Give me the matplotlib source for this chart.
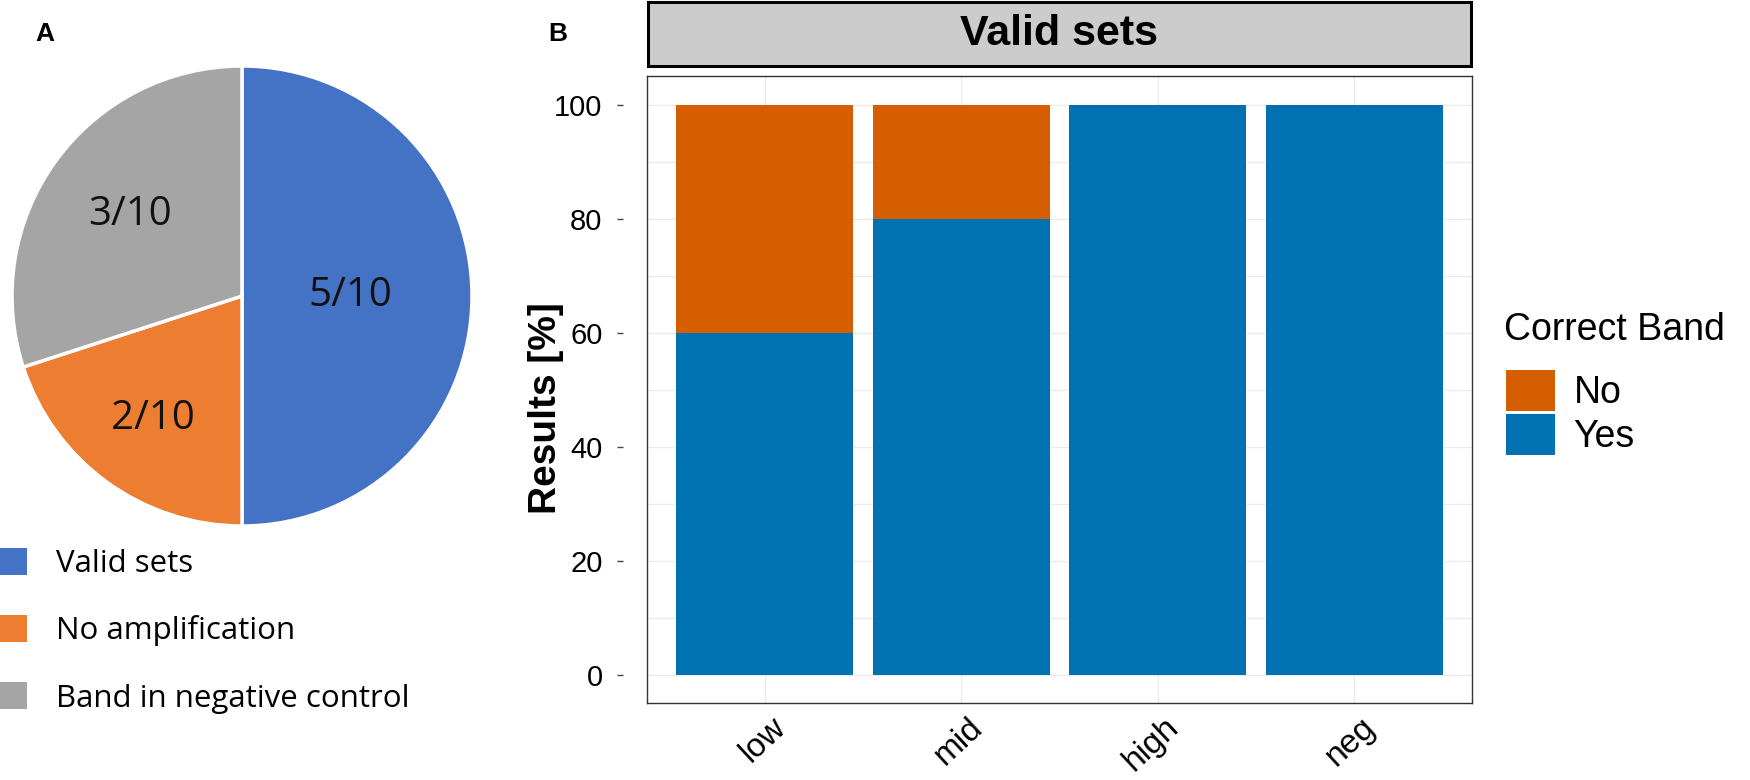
"""Two-panel figure: pie of set outcomes (A) and stacked bars of correct bands (B)."""

import numpy as np
import matplotlib.pyplot as plt
import matplotlib.transforms as mtransforms
from matplotlib.patches import Patch

# panel A data
pie_labels = ["Valid sets", "No amplification", "Band in negative control"]
pie_counts = [5, 2, 3]
pie_text = ["5/10", "2/10", "3/10"]
pie_colors = ["#4472C4", "#ED7D31", "#A5A5A5"]
label_radius = [0.47, 0.66, 0.6]

# panel B data
levels = ["low", "mid", "high", "neg"]
yes_pct = [60, 80, 100, 100]
no_pct = [40, 20, 0, 0]
band_colors = {"No": "#D55E00", "Yes": "#0072B2"}
y_ticks = [0, 20, 40, 60, 80, 100]

W, H = 1750, 780
fig = plt.figure(figsize=(W / 100, H / 100), dpi=100)
plt.rcParams["font.family"] = ["Liberation Sans", "DejaVu Sans"]


def frac(x0, y0, x1, y1):
    """pixel box (top-left origin) -> figure fraction rect"""
    return [x0 / W, 1 - y1 / H, (x1 - x0) / W, (y1 - y0) / H]


# ---- panel A: pie ----
ax_pie = fig.add_axes(frac(12, 66, 472, 526))
wedges, texts = ax_pie.pie(
    pie_counts,
    colors=pie_colors,
    startangle=90,
    counterclock=False,
    labels=pie_text,
    wedgeprops=dict(edgecolor="white", linewidth=2.5),
    textprops=dict(fontsize=29, family="Open Sans", color="#111111",
                   ha="center", va="center"),
)
# labels sit at different radii in the original
for w, t, r in zip(wedges, texts, label_radius):
    ang = np.deg2rad((w.theta1 + w.theta2) / 2)
    t.set_position((r * np.cos(ang), r * np.sin(ang)))
    t.set_ha("center")
    t.set_va("center")
ax_pie.set_xlim(-1, 1)
ax_pie.set_ylim(-1, 1)
ax_pie.set_aspect("equal")

fig.legend(
    handles=[Patch(facecolor=c) for c in pie_colors],
    labels=pie_labels,
    loc="upper left",
    bbox_to_anchor=(0.0, 1 - 548 / H),
    frameon=False,
    prop=dict(family="Open Sans", size=22.5),
    handlelength=0.85,
    handleheight=0.95,
    handletextpad=0.95,
    labelspacing=1.15,
    borderpad=0,
    borderaxespad=0,
)

fig.text(45 / W, 1 - 34 / H, "A", fontsize=19, fontweight="bold", ha="center", va="center")
fig.text(558 / W, 1 - 34 / H, "B", fontsize=19, fontweight="bold", ha="center", va="center")

# ---- panel B: stacked bars ----
ax = fig.add_axes(frac(647, 76, 1472, 703))
x = range(len(levels))
ax.bar(x, yes_pct, width=0.9, color=band_colors["Yes"], label="Yes", zorder=2)
ax.bar(x, no_pct, width=0.9, bottom=yes_pct, color=band_colors["No"], label="No", zorder=2)

ax.set_xlim(-0.6, len(levels) - 0.4)
ax.set_ylim(-5, 105)
ax.set_yticks(y_ticks)
ax.set_yticks([10, 30, 50, 70, 90], minor=True)
ax.set_xticks(list(x))
ax.grid(True, which="both", color="#EBEBEB", linewidth=1, zorder=0)
ax.tick_params(axis="y", which="both", length=0, pad=32, labelsize=21)
ax.tick_params(axis="x", length=0, pad=6)
ax.set_xticklabels(levels, rotation=43, ha="right", va="top",
                   rotation_mode="anchor", fontsize=24)
offset = mtransforms.ScaledTranslation(6 / 100, 0, fig.dpi_scale_trans)
for lbl in ax.get_xticklabels():
    lbl.set_transform(lbl.get_transform() + offset)

# small detached tick dashes like the original
trans = mtransforms.blended_transform_factory(ax.transAxes, ax.transData)
ax.plot([-0.033] * len(y_ticks), y_ticks, ls="none", marker="_", ms=4,
        color="#444444", transform=trans, clip_on=False)

for side in ax.spines.values():
    side.set_color("#333333")
    side.set_linewidth(1)

ax.set_ylabel("Results [%]", fontsize=28, fontweight="bold")
ax.yaxis.set_label_coords(-0.1, 0.47)

# facet strip
ax_strip = fig.add_axes(frac(648, 2, 1471, 66))
ax_strip.set_facecolor("#CCCCCC")
ax_strip.set_xticks([])
ax_strip.set_yticks([])
for side in ax_strip.spines.values():
    side.set_color("black")
    side.set_linewidth(2.2)
ax_strip.text(0.5, 0.5, "Valid sets", fontsize=31, fontweight="bold",
              ha="center", va="center", transform=ax_strip.transAxes)

# legend B (title drawn separately to get the wider gap)
fig.text(1504 / W, 1 - 330 / H, "Correct Band", fontsize=27, ha="left", va="center")
fig.legend(
    handles=[Patch(facecolor=band_colors["No"]), Patch(facecolor=band_colors["Yes"])],
    labels=["No", "Yes"],
    loc="upper left",
    bbox_to_anchor=(1506 / W, 1 - 370 / H),
    frameon=False,
    fontsize=27,
    handlelength=1.3,
    handleheight=1.3,
    handletextpad=0.5,
    labelspacing=0.08,
    borderpad=0,
    borderaxespad=0,
)

fig.savefig("out.png", dpi=100)
